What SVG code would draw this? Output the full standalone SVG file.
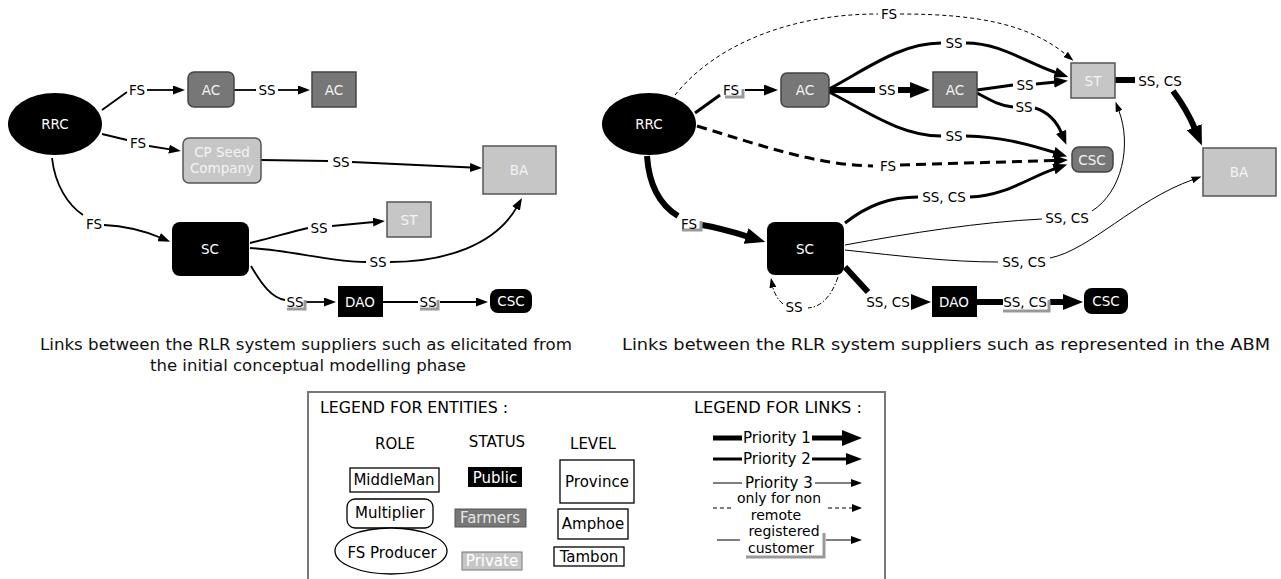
<svg xmlns="http://www.w3.org/2000/svg" width="1281" height="579" viewBox="0 0 1281 579">
<style>
text{font-family:"DejaVu Sans",Verdana,"Liberation Sans",sans-serif}
.nt{font-size:13.5px;fill:#fff;text-anchor:middle}
.ntg{font-size:13.5px;fill:#f4f4f4;text-anchor:middle}
.lb{font-size:13.5px;fill:#000;text-anchor:middle}
.cap{font-size:15px;fill:#111;text-anchor:middle}
.lg{font-size:15px;fill:#000}
.lgm{font-size:15px;fill:#000;text-anchor:middle}
.lgs{font-size:14px;fill:#000;text-anchor:middle}
.e{fill:none;stroke:#000}
.lf{stroke-width:1.8}
.p1{stroke-width:6}
.p2{stroke-width:3}
.p3{stroke-width:1}
.d1{stroke-dasharray:4 3}
.d2{stroke-dasharray:10 6}
.dd{stroke-dasharray:5 2 1.5 2}
.sh{fill:none;stroke:#999;stroke-width:3}
.blk{fill:#000}
.dg{fill:#777;stroke:#444;stroke-width:1.5}
.lgy{fill:#c6c6c6;stroke:#555;stroke-width:1.5}
.box{fill:#fff;stroke:#000;stroke-width:1.3}
</style>
<defs>
<marker id="aL" viewBox="0 0 20 16" refX="2" refY="8" markerWidth="20" markerHeight="16" orient="auto" markerUnits="userSpaceOnUse"><path d="M0,0 L20,8 L0,16 z"/></marker>
<marker id="aM" viewBox="0 0 14 11" refX="2" refY="5.5" markerWidth="14" markerHeight="11" orient="auto" markerUnits="userSpaceOnUse"><path d="M0,0 L14,5.5 L0,11 z"/></marker>
<marker id="aS" viewBox="0 0 10 7" refX="1" refY="3.5" markerWidth="10" markerHeight="7" orient="auto" markerUnits="userSpaceOnUse"><path d="M0,0 L10,3.5 L0,7 z"/></marker>
<marker id="aF" viewBox="0 0 12 9" refX="1" refY="4.5" markerWidth="12" markerHeight="9" orient="auto" markerUnits="userSpaceOnUse"><path d="M0,0 L12,4.5 L0,9 z"/></marker>
</defs>
<rect x="0" y="0" width="1281" height="579" fill="#fff"/>

<!-- LEFT DIAGRAM connectors -->
<g id="left-connectors">
<path class="e lf" d="M102,110 L127,92"/>
<path class="e lf" d="M147,90 L174,90" marker-end="url(#aF)"/>
<path class="e lf" d="M234,90 L256,90"/>
<path class="e lf" d="M278,90 L299,90" marker-end="url(#aF)"/>
<path class="e lf" d="M102,134 L127,140"/>
<path class="e lf" d="M149,146 L170,149.3" marker-end="url(#aF)"/>
<path class="e lf" d="M261,160 L328,161"/>
<path class="e lf" d="M352,162 L471,167.5" marker-end="url(#aF)"/>
<path class="e lf" d="M52,158 C55,185 68,205 83,215"/>
<path class="e lf" d="M104,225 C125,226 142,230 160,237.5" marker-end="url(#aF)"/>
<path class="e lf" d="M250,243 C275,237 290,232 308,228"/>
<path class="e lf" d="M332,226 L374,222" marker-end="url(#aF)"/>
<path class="e lf" d="M250,248 C290,250 330,262 366,262"/>
<path class="e lf" d="M390,262 C445,262 495,245 516.5,207.6" marker-end="url(#aF)"/>
<path class="e lf" d="M251,266 C262,285 272,298 285,300"/>
<path class="e lf" d="M306,302 L325,302" marker-end="url(#aF)"/>
<path class="e lf" d="M383,302 L418,302"/>
<path class="e lf" d="M440,302 L477,302" marker-end="url(#aF)"/>
<polyline class="sh" points="287,309 305,309 305,300"/>
<polyline class="sh" points="420,309 438,309 438,300"/>
<text class="lb" x="137" y="95">FS</text>
<text class="lb" x="267" y="95">SS</text>
<text class="lb" x="138" y="148">FS</text>
<text class="lb" x="341" y="167">SS</text>
<text class="lb" x="94" y="229">FS</text>
<text class="lb" x="319" y="233">SS</text>
<text class="lb" x="378" y="267">SS</text>
<text class="lb" x="295" y="307">SS</text>
<text class="lb" x="428" y="307">SS</text>
</g>

<!-- LEFT DIAGRAM nodes -->
<g id="l-rrc"><ellipse class="blk" cx="55" cy="124" rx="47" ry="31"/><text class="nt" x="55" y="129">RRC</text></g>
<g id="l-ac1"><rect class="dg" x="188" y="72" width="46" height="35" rx="6"/><text class="ntg" x="211" y="95">AC</text></g>
<g id="l-ac2"><rect class="dg" x="312" y="72" width="44" height="35"/><text class="ntg" x="334" y="95">AC</text></g>
<g id="l-cp"><rect class="lgy" x="183" y="138" width="78" height="45" rx="6"/><text class="ntg" x="222" y="157">CP Seed</text><text class="ntg" x="222" y="173">Company</text></g>
<g id="l-ba"><rect class="lgy" x="483" y="146" width="73" height="48"/><text class="ntg" x="519" y="175">BA</text></g>
<g id="l-sc"><rect class="blk" x="172" y="222" width="77" height="54" rx="8"/><text class="nt" x="210" y="254">SC</text></g>
<g id="l-st"><rect class="lgy" x="387" y="202" width="44" height="35"/><text class="ntg" x="409" y="225">ST</text></g>
<g id="l-dao"><rect class="blk" x="338" y="286" width="45" height="31"/><text class="nt" x="360" y="307">DAO</text></g>
<g id="l-csc"><rect class="blk" x="490" y="289" width="42" height="24" rx="8"/><text class="nt" x="511" y="306">CSC</text></g>

<!-- RIGHT DIAGRAM connectors -->
<g id="right-connectors">
<path class="e p3 d1" d="M675,95 C715,45 790,14 878,14"/>
<path class="e p3 d1" d="M900,14 C980,14 1030,25 1066.5,55" marker-end="url(#aS)"/>
<path class="e p2" d="M829,89 C865,70 900,43 941,43"/>
<path class="e p2" d="M966,43 C1000,43 1025,62 1057,73" marker-end="url(#aM)"/>
<path class="e p2" d="M829,92 C865,110 900,136 941,136"/>
<path class="e p2" d="M966,136 C1000,137 1025,143 1055.7,152.8" marker-end="url(#aM)"/>
<path class="e p1" d="M829,90 L875,90"/>
<path class="e p1" d="M898,90 L912,90" marker-end="url(#aL)"/>
<path class="e p2 d2" d="M697,126 C760,145 815,165 873,166"/>
<path class="e p2 d2" d="M900,165 L1056,160.4" marker-end="url(#aM)"/>
<path class="e p2" d="M695,113 L720,95"/>
<path class="e" stroke-width="2" d="M745,90 L766,90" marker-end="url(#aM)"/>
<path class="e p1" d="M647,156 C649,185 660,205 678,216"/>
<path class="e p1" d="M702,225 C720,228 733,232 748,236.6" marker-end="url(#aL)"/>
<path class="e p2" d="M977,90 L1013,85"/>
<path class="e p2" d="M1036,84 L1056,82" marker-end="url(#aM)"/>
<path class="e p2" d="M977,93 C990,100 1000,106 1013,107"/>
<path class="e p2" d="M1035,108 C1048,112 1057,122 1061.8,133.7" marker-end="url(#aM)"/>
<path class="e p1" d="M1115,80 L1135,80"/>
<path class="e p1" d="M1173,91 C1182,103 1190,117 1195,129" marker-end="url(#aL)"/>
<path class="e p2" d="M845,223 C868,205 890,197 918,197"/>
<path class="e p2" d="M970,197 C1005,196 1030,177 1055.8,168.4" marker-end="url(#aM)"/>
<path class="e p3" d="M845,245 C910,233 980,222 1042,219"/>
<path class="e p3" d="M1092,211 C1122,192 1132,145 1118.7,110.2" marker-end="url(#aS)"/>
<path class="e p3" d="M845,250 C900,256 950,262 998,262"/>
<path class="e p3" d="M1050,258 C1090,250 1135,200 1193,179.6" marker-end="url(#aS)"/>
<path class="e p3 dd" d="M838,277 C832,295 822,307 808,308"/>
<path class="e p3 dd" d="M783,304 C778,300 774,293 772.7,286.6" marker-end="url(#aS)"/>
<path class="e p1" d="M845,267 L868,292"/>
<polygon points="911,294 931,302 911,310" fill="#000"/>
<path class="e p1" d="M977,302 L1003,302"/>
<path class="e p1" d="M1050,302 L1065,302" marker-end="url(#aL)"/>
<polyline class="sh" points="725,97 743,97 743,89"/>
<polyline class="sh" points="682,230 701,230 701,221"/>
<polyline class="sh" points="1003,311 1049,311 1049,300"/>
<text class="lb" x="889" y="19">FS</text>
<text class="lb" x="954" y="48">SS</text>
<text class="lb" x="954" y="141">SS</text>
<text class="lb" x="887" y="95">SS</text>
<text class="lb" x="888" y="171">FS</text>
<text class="lb" x="731" y="95">FS</text>
<text class="lb" x="689" y="229">FS</text>
<text class="lb" x="1025" y="90">SS</text>
<text class="lb" x="1024" y="112">SS</text>
<text class="lb" x="1160" y="86">SS, CS</text>
<text class="lb" x="944" y="202">SS, CS</text>
<text class="lb" x="1067" y="223">SS, CS</text>
<text class="lb" x="1024" y="267">SS, CS</text>
<text class="lb" x="794" y="312">SS</text>
<text class="lb" x="888" y="307">SS, CS</text>
<text class="lb" x="1025" y="307">SS, CS</text>
</g>

<!-- RIGHT DIAGRAM nodes -->
<g id="r-rrc"><ellipse class="blk" cx="649" cy="124" rx="47" ry="31"/><text class="nt" x="649" y="129">RRC</text></g>
<g id="r-ac1"><rect class="dg" x="781" y="73" width="48" height="34" rx="6"/><text class="ntg" x="805" y="95">AC</text></g>
<g id="r-ac2"><rect class="dg" x="933" y="72" width="44" height="35"/><text class="ntg" x="955" y="95">AC</text></g>
<g id="r-st"><rect class="lgy" x="1071" y="63" width="44" height="35"/><text class="ntg" x="1093" y="86">ST</text></g>
<g id="r-csc1"><rect class="dg" x="1072" y="147" width="41" height="25" rx="7"/><text class="ntg" x="1092" y="165">CSC</text></g>
<g id="r-ba"><rect class="lgy" x="1203" y="148" width="73" height="48"/><text class="ntg" x="1239" y="177">BA</text></g>
<g id="r-sc"><rect class="blk" x="767" y="222" width="77" height="53" rx="8"/><text class="nt" x="805" y="254">SC</text></g>
<g id="r-dao"><rect class="blk" x="932" y="286" width="45" height="31"/><text class="nt" x="954" y="307">DAO</text></g>
<g id="r-csc2"><rect class="blk" x="1084" y="288" width="44" height="26" rx="8"/><text class="nt" x="1106" y="306">CSC</text></g>

<!-- captions -->
<g id="captions">
<text class="cap" x="306" y="350" textLength="532" lengthAdjust="spacingAndGlyphs">Links between the RLR system suppliers such as elicitated from</text>
<text class="cap" x="308" y="371" textLength="316" lengthAdjust="spacingAndGlyphs">the initial conceptual modelling phase</text>
<text class="cap" x="946" y="350" textLength="648" lengthAdjust="spacingAndGlyphs">Links between the RLR system suppliers such as represented in the ABM</text>
</g>

<!-- LEGEND -->
<g id="legend">
<rect x="308" y="392" width="577" height="200" fill="#fff" stroke="#777" stroke-width="2"/>
<text class="lg" x="320" y="413" textLength="188" lengthAdjust="spacingAndGlyphs">LEGEND FOR ENTITIES :</text>
<text class="lgm" x="395" y="449">ROLE</text>
<text class="lgm" x="497" y="447">STATUS</text>
<text class="lgm" x="593" y="449">LEVEL</text>
<rect class="box" x="350" y="468" width="89" height="24"/>
<text class="lgm" x="394" y="485">MiddleMan</text>
<rect class="box" x="347" y="499" width="86" height="29" rx="8"/>
<text class="lgm" x="390" y="518">Multiplier</text>
<ellipse class="box" cx="391" cy="551" rx="56" ry="23"/>
<text class="lgm" x="392" y="558">FS Producer</text>
<rect x="468" y="467" width="54" height="20" fill="#000"/>
<text class="lgm" x="495" y="483" style="fill:#fff">Public</text>
<rect x="455" y="509" width="71" height="18" fill="#777" stroke="#555"/>
<text class="lgm" x="490" y="523" style="fill:#e6e6e6">Farmers</text>
<rect x="462" y="552" width="60" height="18" fill="#c6c6c6" stroke="#777"/>
<text class="lgm" x="492" y="566" style="fill:#fff">Private</text>
<rect class="box" x="560" y="460" width="74" height="43"/>
<text class="lgm" x="597" y="487">Province</text>
<rect class="box" x="558" y="509" width="70" height="30"/>
<text class="lgm" x="593" y="529">Amphoe</text>
<rect class="box" x="554" y="547" width="70" height="19"/>
<text class="lgm" x="589" y="562">Tambon</text>

<text class="lg" x="694" y="413" textLength="168" lengthAdjust="spacingAndGlyphs">LEGEND FOR LINKS  :</text>
<line x1="713" y1="438" x2="742" y2="438" stroke="#000" stroke-width="5"/>
<text class="lg" x="743" y="443">Priority 1</text>
<line x1="812" y1="438" x2="843" y2="438" stroke="#000" stroke-width="5"/>
<polygon points="842,430 862,438 842,446" fill="#000"/>
<line x1="713" y1="459" x2="742" y2="459" stroke="#000" stroke-width="3"/>
<text class="lg" x="743" y="464">Priority 2</text>
<line x1="812" y1="459" x2="847" y2="459" stroke="#000" stroke-width="3"/>
<polygon points="846,453 862,459 846,465" fill="#000"/>
<line x1="713" y1="483" x2="742" y2="483" stroke="#000" stroke-width="1"/>
<text class="lg" x="745" y="488">Priority 3</text>
<line x1="815" y1="483" x2="852" y2="483" stroke="#000" stroke-width="1"/>
<polygon points="851,479 862,483 851,487" fill="#000"/>
<line x1="713" y1="508" x2="733" y2="508" stroke="#000" stroke-width="1" stroke-dasharray="4 3"/>
<text class="lgs" x="779" y="503">only for non</text>
<text class="lgs" x="776" y="519.5">remote</text>
<line x1="828" y1="508" x2="853" y2="508" stroke="#000" stroke-width="1" stroke-dasharray="4 3"/>
<polygon points="852,504 862,508 852,512" fill="#000"/>
<line x1="717" y1="540" x2="740" y2="540" stroke="#000" stroke-width="1"/>
<text class="lgs" x="784" y="536">registered</text>
<text class="lgs" x="781" y="553">customer</text>
<polyline class="sh" points="746,557 824,557 824,533"/>
<line x1="826" y1="540" x2="852" y2="540" stroke="#000" stroke-width="1"/>
<polygon points="851,536 862,540 851,544" fill="#000"/>
</g>
</svg>
